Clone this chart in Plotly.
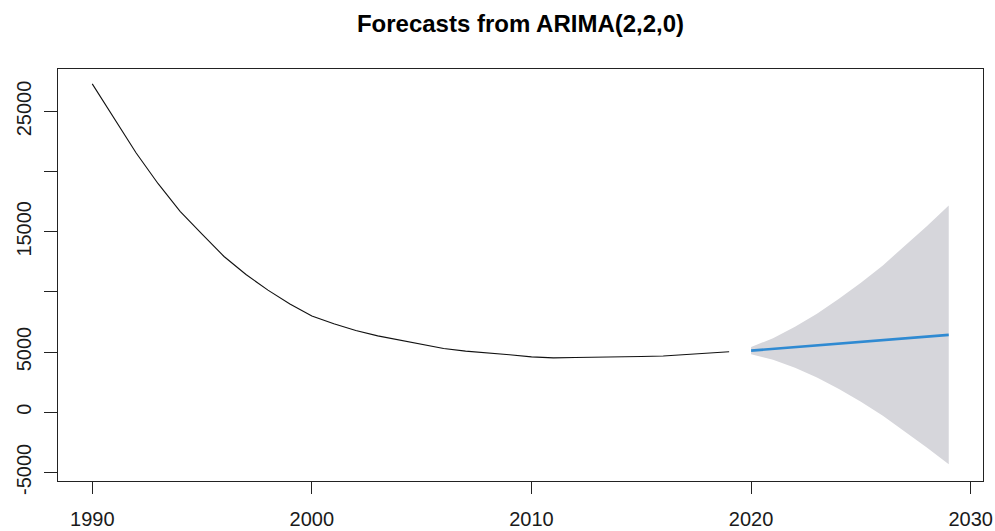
import plotly.graph_objects as go

# Observed annual series
years_hist = list(range(1990, 2020))
values_hist = [27300, 24400, 21550, 19000, 16700, 14800, 12950, 11450, 10150, 9000,
               8000, 7350, 6800, 6350, 6000, 5650, 5300, 5080, 4950, 4780,
               4600, 4520, 4550, 4600, 4620, 4640, 4680, 4800, 4950, 5030]

# Point forecasts with 95% prediction interval
years_fc = list(range(2020, 2030))
fc_mean = [5120, 5260, 5400, 5540, 5680, 5820, 5960, 6110, 6270, 6430]
fc_lower = [4820, 4360, 3700, 2890, 1930, 870, -290, -1590, -2930, -4320]
fc_upper = [5420, 6160, 7100, 8190, 9430, 10770, 12210, 13810, 15470, 17180]

y_tickvals = [-5000, 0, 5000, 10000, 15000, 20000, 25000]
y_ticktext = ["-5000", "0", "5000", "", "15000", "", "25000"]
x_tickvals = [1990, 2000, 2010, 2020, 2030]

font_family = "Liberation Sans, Arial, sans-serif"

fig = go.Figure()

fig.add_trace(go.Scatter(x=years_fc, y=fc_lower, mode="lines",
                         line=dict(width=0, color="#D6D6DB"),
                         showlegend=False, hoverinfo="skip"))
fig.add_trace(go.Scatter(x=years_fc, y=fc_upper, mode="lines",
                         line=dict(width=0, color="#D6D6DB"),
                         fill="tonexty", fillcolor="#D6D6DB",
                         showlegend=False, hoverinfo="skip"))
fig.add_trace(go.Scatter(x=years_hist, y=values_hist, mode="lines",
                         line=dict(color="#111111", width=1.1),
                         showlegend=False))
fig.add_trace(go.Scatter(x=years_fc, y=fc_mean, mode="lines",
                         line=dict(color="#2F8AD2", width=2.6),
                         showlegend=False))

fig.update_layout(
    width=995, height=531,
    margin=dict(l=58, r=12, t=69, b=50, autoexpand=False),
    paper_bgcolor="white", plot_bgcolor="white",
    font=dict(family=font_family, color="#1a1a1a", size=20),
    title=dict(text="<b>Forecasts from ARIMA(2,2,0)</b>",
               x=0.5, xanchor="center", xref="paper",
               y=1 - 24 / 531, yanchor="middle", yref="container",
               font=dict(size=24, color="#000000", family=font_family)),
)

fig.update_xaxes(range=[1988.44, 2030.56], tickvals=x_tickvals,
                 ticks="outside", ticklen=12, tickwidth=1, tickcolor="#222222",
                 showline=True, linecolor="#222222", linewidth=1.3, mirror=True,
                 showgrid=False, zeroline=False, automargin=False,
                 ticklabelstandoff=8,
                 tickfont=dict(size=20, color="#1a1a1a"))
fig.update_yaxes(range=[-5716, 28536], tickvals=y_tickvals, ticktext=y_ticktext,
                 tickangle=-90,
                 ticks="outside", ticklen=13, tickwidth=1, tickcolor="#222222",
                 showline=True, linecolor="#222222", linewidth=1.3, mirror=True,
                 showgrid=False, zeroline=False, automargin=False,
                 ticklabelstandoff=5,
                 tickfont=dict(size=20, color="#1a1a1a"))

fig.write_html("out.html")
